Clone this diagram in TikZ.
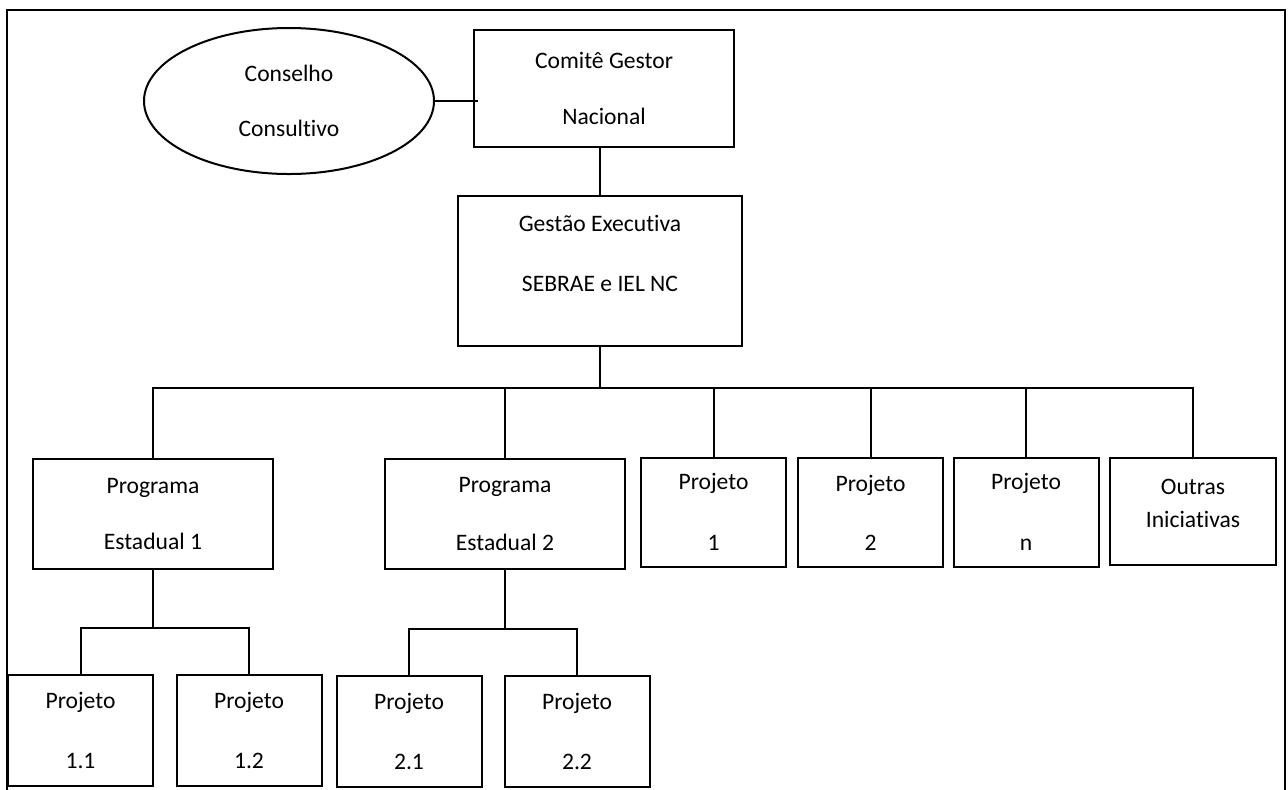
\documentclass[tikz,border=0pt]{standalone}
\usepackage{fontspec}
\setmainfont{Carlito}[Ligatures=NoCommon]
\usetikzlibrary{shapes.geometric}

\begin{document}
\begin{tikzpicture}[x=0.5pt, y=-0.5pt, line width=1pt,
  font=\fontsize{11.8}{14}\selectfont,
  box/.style={draw, rectangle, inner sep=0pt, align=center},
  oval/.style={draw, ellipse, inner sep=0pt, align=center},
  prog/.style={box, minimum width=120pt, minimum height=55pt},
  proj/.style={box, minimum width=72.5pt, minimum height=54.5pt},
  sub/.style={box, minimum width=72.5pt, minimum height=55.5pt}]
\useasboundingbox (0,0) rectangle (1288,789);
\draw (7,10) rectangle (1285,800);

% top level
\node[oval, minimum width=145pt, minimum height=73pt] (cons) at (289,101) {Conselho\\[13.5pt]Consultivo};
\node[box, minimum width=130pt, minimum height=58.5pt] (com) at (604,88.5) {Comitê Gestor\\[14pt]Nacional};
\node[box, minimum width=142pt, minimum height=75pt] (gest) at (600,271) {Gestão Executiva\\[16pt]SEBRAE e IEL NC\\[4pt]\mbox{}};

\draw (cons.east) -- ([xshift=2.5pt]cons.east -| com.west);
\draw (gest.north) -- (gest.north |- com.south);

% programs and projects
\node[prog] (prog1) at (153,514) {Programa\\[14pt]Estadual 1};
\node[prog] (prog2) at (505,514) {Programa\\[15pt]Estadual 2};
\node[proj] (proj1) at (713.5,512) {Projeto\\[16.5pt]1};
\node[proj] (proj2) at (870.5,512.5) {Projeto\\[15.5pt]2};
\node[proj] (projn) at (1026,512) {Projeto\\[16.5pt]n};
\node[box, minimum width=83pt, minimum height=53.5pt] (outras) at (1193,511.5) {Outras\\[2.5pt]Iniciativas\\[-6pt]\mbox{}};

\draw (gest.south) -- ++(0,41) coordinate (bus);
\draw (prog1.north) |- (outras.north |- bus) -- (outras.north);
\foreach \n in {prog2,proj1,proj2,projn}
  \draw (\n.north) -- (\n.north |- bus);

% sub projects
\node[sub] (p11) at (80.5,730.5) {Projeto\\[16pt]1.1};
\node[sub] (p12) at (249,730.5) {Projeto\\[16pt]1.2};
\node[sub] (p21) at (409,731) {Projeto\\[16pt]2.1};
\node[sub] (p22) at (577,731) {Projeto\\[16pt]2.2};

\draw (prog1.south) -- ++(0,58) coordinate (sub1);
\draw (p11.north) |- (p12.north |- sub1) -- (p12.north);
\draw (prog2.south) -- ++(0,59) coordinate (sub2);
\draw (p21.north) |- (p22.north |- sub2) -- (p22.north);
\end{tikzpicture}
\end{document}
